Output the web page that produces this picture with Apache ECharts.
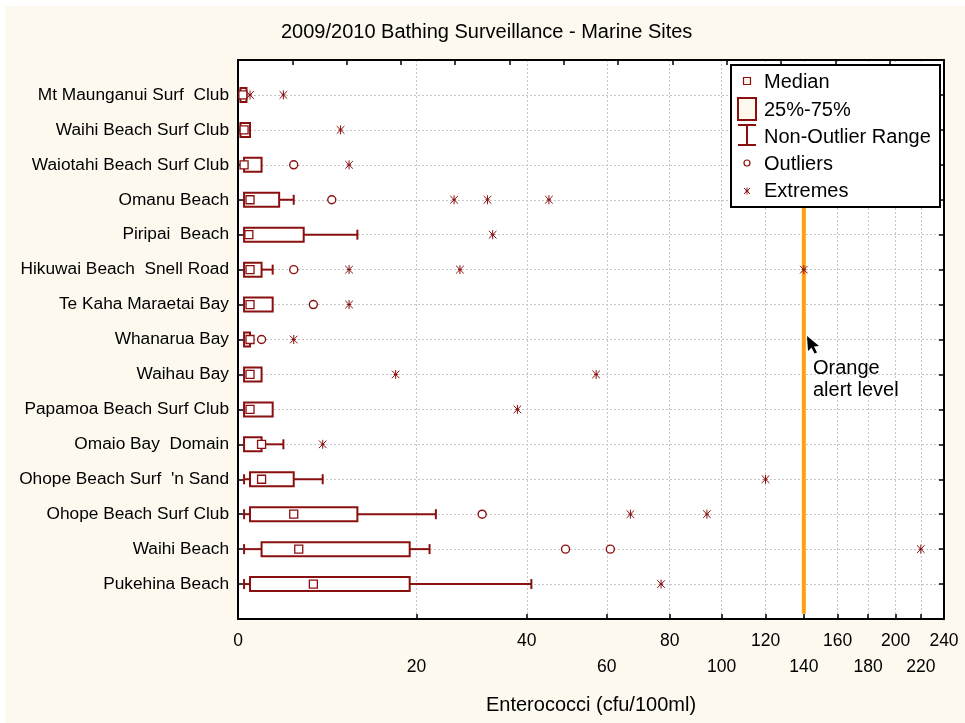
<!DOCTYPE html>
<html>
<head>
<meta charset="utf-8">
<title>2009/2010 Bathing Surveillance - Marine Sites</title>
<script src="https://cdn.jsdelivr.net/npm/echarts@6/dist/echarts.min.js"></script>
<style>
  html, body { margin: 0; padding: 0; background: #ffffff; }
  #chart { width: 965px; height: 723px; }
</style>
</head>
<body>
<div id="chart"></div>
<script>
// Sites, top to bottom
const sites = [
  'Mt Maunganui Surf  Club',
  'Waihi Beach Surf Club',
  'Waiotahi Beach Surf Club',
  'Omanu Beach',
  'Piripai  Beach',
  'Hikuwai Beach  Snell Road',
  'Te Kaha Maraetai Bay',
  'Whanarua Bay',
  'Waihau Bay',
  'Papamoa Beach Surf Club',
  'Omaio Bay  Domain',
  "Ohope Beach Surf  'n Sand",
  'Ohope Beach Surf Club',
  'Waihi Beach',
  'Pukehina Beach'
];

// Box-whisker statistics (cfu/100ml)
const whiskerLow  = [0.2, 0.2, 0.5, 0.5, 0.5, 0.5, 0.5, 0.5, 0.5, 0.5, 0.5, 0.5, 0.5, 0.5, 0.5];
const quartile1   = [0.2, 0.2, 0.5, 0.5, 0.5, 0.5, 0.5, 0.5, 0.5, 0.5, 0.5, 1,   1,   2,   1  ];
const median      = [0.4, 0.5, 0.5, 1,   0.9, 1,   1,   1,   1,   1,   2,   2,   5,   5.5, 7  ];
const quartile3   = [0.7, 1,   2,   3.6, 6,   2,   3,   1,   2,   3,   2,   5,   12,  19,  19 ];
const whiskerHigh = [0.7, 1,   2,   5,   12,  3,   3,   1,   2,   3,   4,   8,   23,  22,  41 ];

// Outliers and extremes per site
const outliers = [[], [], [5], [9], [], [5], [7], [2], [], [], [], [], [31], [49, 61], []];
const extremes = [[1, 4], [10], [11], [26, 32, 45], [33], [11, 27, 140], [11], [5],
                  [17, 57], [38], [8], [120], [67, 94], [220], [77]];

// Axis ticks (labels alternate between two rows) and alert level
const xTicks = [0, 20, 40, 60, 80, 100, 120, 140, 160, 180, 200, 220, 240];
const xTicksUpper = [0, 40, 80, 120, 160, 200, 240];
const xTicksLower = [20, 60, 100, 140, 180, 220];
const ALERT_LEVEL = 140;

// Scale: log(x + 24), so low counts are spread out
const OFFSET = 24;
const tf = v => Math.log((v + OFFSET) / OFFSET);
const inv = t => OFFSET * Math.exp(t) - OFFSET;

const DARK_RED = '#8a1010';
const FONT = "'Liberation Sans', Arial, sans-serif";
const rowIdx = sites.map((_, i) => i);

const boxData = sites.map((_, i) => [
  i, tf(whiskerLow[i]), tf(quartile1[i]), tf(median[i]), tf(quartile3[i]), tf(whiskerHigh[i])
]);
const outlierData = [];
outliers.forEach((arr, i) => arr.forEach(v => outlierData.push([tf(v), i])));
const extremeData = [];
extremes.forEach((arr, i) => arr.forEach(v => extremeData.push([tf(v), i])));

function asteriskShapes(cx, cy, r, width, color, z) {
  const d = r * 0.85;
  const st = { stroke: color, lineWidth: width };
  const h = r * 0.45;
  return [
    { type: 'line', z: z, shape: { x1: cx, y1: cy - r, x2: cx, y2: cy + r }, style: st },
    { type: 'line', z: z, shape: { x1: cx - d, y1: cy - d, x2: cx + d, y2: cy + d }, style: st },
    { type: 'line', z: z, shape: { x1: cx - d, y1: cy + d, x2: cx + d, y2: cy - d }, style: st },
    { type: 'line', z: z, shape: { x1: cx - h, y1: cy, x2: cx + h, y2: cy }, style: st }
  ];
}

function labelAxis(values, margin) {
  return {
    type: 'value', position: 'bottom', offset: 0,
    min: 0, max: tf(240),
    axisLine: { show: false },
    axisTick: { show: false },
    axisLabel: {
      customValues: values.map(tf),
      showMinLabel: true, showMaxLabel: true, hideOverlap: false,
      margin: margin, fontSize: 17.5, color: '#000', fontFamily: FONT,
      formatter: val => String(Math.round(inv(val)))
    },
    splitLine: { show: false }
  };
}

const chart = echarts.init(document.getElementById('chart'), null, { renderer: 'canvas' });

const option = {
  animation: false,
  backgroundColor: '#ffffff',
  textStyle: { fontFamily: FONT },
  title: {
    text: '2009/2010 Bathing Surveillance - Marine Sites',
    left: 281, top: 22, padding: 0,
    textStyle: { fontSize: 20, fontWeight: 'normal', color: '#000', fontFamily: FONT }
  },
  grid: { left: 238, right: 21, top: 60, bottom: 104, containLabel: false, outerBoundsMode: 'none' },
  xAxis: [
    {
      type: 'value', position: 'bottom',
      min: 0, max: tf(240),
      name: 'Enterococci (cfu/100ml)',
      nameLocation: 'middle', nameGap: 76,
      nameTextStyle: { fontSize: 20, color: '#000', fontFamily: FONT },
      axisLine: { show: true, onZero: false, lineStyle: { color: '#000', width: 2 } },
      axisTick: { show: true, inside: true, length: 5, customValues: xTicks.map(tf),
                  lineStyle: { color: '#000', width: 1.5 } },
      axisLabel: { show: false, customValues: xTicks.map(tf) },
      splitLine: { show: true, lineStyle: { color: '#c6c6c6', width: 1, type: [2, 2] } }
    },
    {
      type: 'value', position: 'top',
      min: 0, max: 13, interval: 1,
      axisLine: { show: true, onZero: false, lineStyle: { color: '#000', width: 2 } },
      axisTick: { show: true, inside: true, length: 5, lineStyle: { color: '#000', width: 1.5 } },
      axisLabel: { show: false },
      splitLine: { show: false }
    },
    labelAxis(xTicksUpper, 13),
    labelAxis(xTicksLower, 39)
  ],
  yAxis: [
    {
      type: 'value', position: 'left', inverse: true,
      min: -1, max: 15,
      axisLine: { show: true, onZero: false, lineStyle: { color: '#000', width: 2 } },
      axisTick: { show: true, inside: true, length: 5, customValues: rowIdx,
                  lineStyle: { color: '#000', width: 1.5 } },
      axisLabel: {
        customValues: rowIdx, margin: 9, fontSize: 17.3, color: '#000', fontFamily: FONT,
        showMinLabel: true, showMaxLabel: true,
        formatter: v => sites[Math.round(v)]
      },
      splitLine: { show: true, lineStyle: { color: '#c6c6c6', width: 1, type: [2, 2] } }
    },
    {
      type: 'value', position: 'right', inverse: true,
      min: -1, max: 15,
      axisLine: { show: true, onZero: false, lineStyle: { color: '#000', width: 2 } },
      axisTick: { show: true, inside: true, length: 5, customValues: rowIdx,
                  lineStyle: { color: '#000', width: 1.5 } },
      axisLabel: { show: false },
      splitLine: { show: false }
    }
  ],
  series: [
    {
      name: 'Orange alert level',
      type: 'line', xAxisIndex: 0, yAxisIndex: 0,
      data: [[tf(ALERT_LEVEL), -0.85], [tf(ALERT_LEVEL), 14.85]],
      showSymbol: false, silent: true, z: 1,
      lineStyle: { color: '#ffa012', width: 4 }
    },
    {
      name: 'Box',
      type: 'custom', xAxisIndex: 0, yAxisIndex: 0, z: 3,
      data: boxData,
      renderItem: function (params, api) {
        const row = api.value(0);
        const low = api.value(1), q1 = api.value(2), med = api.value(3),
              q3 = api.value(4), high = api.value(5);
        const pLow = api.coord([low, row]);
        const pQ1 = api.coord([q1, row]);
        const pMed = api.coord([med, row]);
        const pQ3 = api.coord([q3, row]);
        const pHigh = api.coord([high, row]);
        const y = pQ1[1];
        const bh = 14, cap = 10, ms = 8;
        const line = { stroke: DARK_RED, lineWidth: 2 };
        const children = [];
        if (high > q3) {
          children.push({ type: 'line', shape: { x1: pQ3[0], y1: y, x2: pHigh[0], y2: y }, style: line });
          children.push({ type: 'line', shape: { x1: pHigh[0], y1: y - cap / 2, x2: pHigh[0], y2: y + cap / 2 }, style: line });
        }
        if (low < q1) {
          children.push({ type: 'line', shape: { x1: pLow[0], y1: y, x2: pQ1[0], y2: y }, style: line });
          children.push({ type: 'line', shape: { x1: pLow[0], y1: y - cap / 2, x2: pLow[0], y2: y + cap / 2 }, style: line });
        }
        children.push({
          type: 'rect',
          shape: { x: pQ1[0], y: y - bh / 2, width: Math.max(pQ3[0] - pQ1[0], 2), height: bh },
          style: { fill: '#ffffff', stroke: DARK_RED, lineWidth: 2 }
        });
        children.push({
          type: 'rect',
          shape: { x: pMed[0] - ms / 2, y: y - ms / 2, width: ms, height: ms },
          style: { fill: '#ffffff', stroke: DARK_RED, lineWidth: 1.3 }
        });
        return { type: 'group', children: children };
      }
    },
    {
      name: 'Outliers',
      type: 'scatter', xAxisIndex: 0, yAxisIndex: 0, z: 4,
      data: outlierData,
      symbol: 'circle', symbolSize: 8,
      itemStyle: { color: '#ffffff', borderColor: DARK_RED, borderWidth: 1.4, opacity: 1 }
    },
    {
      name: 'Extremes',
      type: 'custom', xAxisIndex: 0, yAxisIndex: 0, z: 4,
      data: extremeData,
      renderItem: function (params, api) {
        const p = api.coord([api.value(0), api.value(1)]);
        return { type: 'group', children: asteriskShapes(p[0], p[1], 4.5, 1, DARK_RED) };
      }
    }
  ],
  graphic: {
    elements: [
      // cream page panel
      { type: 'rect', z: -10, silent: true,
        shape: { x: 5, y: 6, width: 960, height: 717 }, style: { fill: '#fdf9ef' } },
      // plot area background
      { type: 'rect', z: -9, silent: true,
        shape: { x: 238, y: 60, width: 706, height: 559 }, style: { fill: '#ffffff' } },
      // legend
      { type: 'rect', z: 100, silent: true, shape: { x: 731, y: 65, width: 209, height: 142 },
        style: { fill: '#ffffff', stroke: '#000', lineWidth: 2 } },
      { type: 'rect', z: 101, silent: true, shape: { x: 743.5, y: 77.5, width: 7, height: 7 },
        style: { fill: '#fdf9ef', stroke: DARK_RED, lineWidth: 1.2 } },
      { type: 'text', z: 101, silent: true,
        style: { x: 764, y: 82, text: 'Median', font: '20px ' + FONT, fill: '#000', verticalAlign: 'middle' } },
      { type: 'rect', z: 101, silent: true, shape: { x: 738, y: 98, width: 18, height: 22 },
        style: { fill: '#fdf9ef', stroke: DARK_RED, lineWidth: 2 } },
      { type: 'text', z: 101, silent: true,
        style: { x: 764, y: 110, text: '25%-75%', font: '20px ' + FONT, fill: '#000', verticalAlign: 'middle' } },
      { type: 'line', z: 101, silent: true, shape: { x1: 738, y1: 125, x2: 756, y2: 125 }, style: { stroke: DARK_RED, lineWidth: 2 } },
      { type: 'line', z: 101, silent: true, shape: { x1: 738, y1: 145, x2: 756, y2: 145 }, style: { stroke: DARK_RED, lineWidth: 2 } },
      { type: 'line', z: 101, silent: true, shape: { x1: 747, y1: 125, x2: 747, y2: 145 }, style: { stroke: DARK_RED, lineWidth: 2 } },
      { type: 'text', z: 101, silent: true,
        style: { x: 764, y: 137, text: 'Non-Outlier Range', font: '20px ' + FONT, fill: '#000', verticalAlign: 'middle' } },
      { type: 'circle', z: 101, silent: true, shape: { cx: 747, cy: 163, r: 3 },
        style: { fill: '#ffffff', stroke: DARK_RED, lineWidth: 1.2 } },
      { type: 'text', z: 101, silent: true,
        style: { x: 764, y: 164, text: 'Outliers', font: '20px ' + FONT, fill: '#000', verticalAlign: 'middle' } }
    ].concat(asteriskShapes(747, 191, 3.5, 1, DARK_RED, 101)).concat([
      { type: 'text', z: 101, silent: true,
        style: { x: 764, y: 191, text: 'Extremes', font: '20px ' + FONT, fill: '#000', verticalAlign: 'middle' } },
      // alert-level note with pointer
      { type: 'polygon', z: 101, silent: true,
        shape: { points: [[807, 336], [808, 351], [811.5, 347.5], [814.5, 353.5], [817, 352.5], [814, 346.5], [819, 346]] },
        style: { fill: '#000' } },
      { type: 'text', z: 101, silent: true,
        style: { x: 813, y: 368, text: 'Orange', font: '20px ' + FONT, fill: '#000', verticalAlign: 'middle' } },
      { type: 'text', z: 101, silent: true,
        style: { x: 813, y: 390, text: 'alert level', font: '20px ' + FONT, fill: '#000', verticalAlign: 'middle' } }
    ])
  }
};

chart.setOption(option);
</script>
</body>
</html>
